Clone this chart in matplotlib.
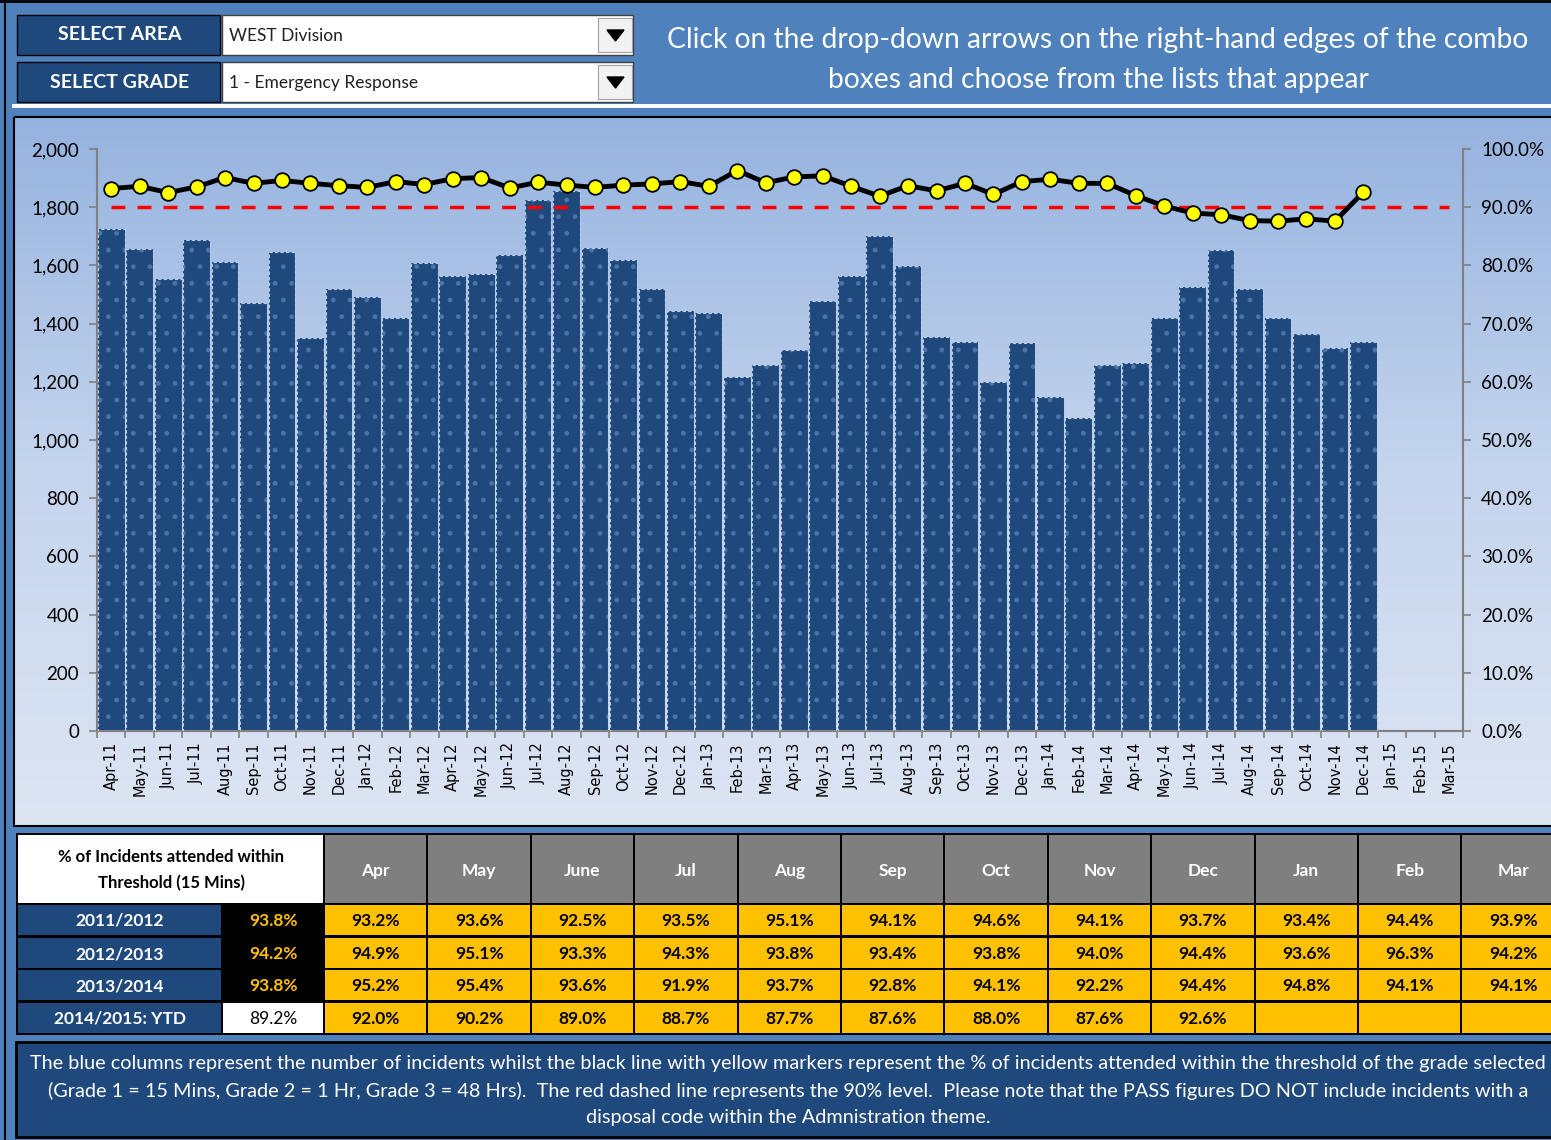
import numpy as np
import matplotlib
matplotlib.use("Agg")
import matplotlib.pyplot as plt
from matplotlib.patches import Rectangle, Polygon
from matplotlib.colors import LinearSegmentedColormap
from matplotlib.ticker import FuncFormatter, MultipleLocator

plt.rcParams['font.family'] = ['Lato', 'DejaVu Sans']

# month axis labels
months = ['Apr-11', 'May-11', 'Jun-11', 'Jul-11', 'Aug-11', 'Sep-11', 'Oct-11', 'Nov-11', 'Dec-11', 'Jan-12', 'Feb-12', 'Mar-12',
          'Apr-12', 'May-12', 'Jun-12', 'Jul-12', 'Aug-12', 'Sep-12', 'Oct-12', 'Nov-12', 'Dec-12', 'Jan-13', 'Feb-13', 'Mar-13',
          'Apr-13', 'May-13', 'Jun-13', 'Jul-13', 'Aug-13', 'Sep-13', 'Oct-13', 'Nov-13', 'Dec-13', 'Jan-14', 'Feb-14', 'Mar-14',
          'Apr-14', 'May-14', 'Jun-14', 'Jul-14', 'Aug-14', 'Sep-14', 'Oct-14', 'Nov-14', 'Dec-14', 'Jan-15', 'Feb-15', 'Mar-15']

# number of incidents (blue columns)
incidents = [1725, 1656, 1553, 1687, 1612, 1471, 1646, 1350, 1519, 1491, 1419, 1608,
             1564, 1570, 1636, 1825, 1856, 1660, 1619, 1519, 1443, 1436, 1216, 1258,
             1309, 1478, 1564, 1701, 1598, 1354, 1337, 1199, 1333, 1148, 1076, 1258,
             1265, 1419, 1526, 1653, 1519, 1419, 1364, 1316, 1337]

# % attended within threshold, per financial year
table_months = ['Apr', 'May', 'June', 'Jul', 'Aug', 'Sep', 'Oct', 'Nov', 'Dec', 'Jan', 'Feb', 'Mar']
fin_years = ['2011/2012', '2012/2013', '2013/2014', '2014/2015: YTD']
year_totals = [93.8, 94.2, 93.8, 89.2]
pct_1112 = [93.2, 93.6, 92.5, 93.5, 95.1, 94.1, 94.6, 94.1, 93.7, 93.4, 94.4, 93.9]
pct_1213 = [94.9, 95.1, 93.3, 94.3, 93.8, 93.4, 93.8, 94.0, 94.4, 93.6, 96.3, 94.2]
pct_1314 = [95.2, 95.4, 93.6, 91.9, 93.7, 92.8, 94.1, 92.2, 94.4, 94.8, 94.1, 94.1]
pct_1415 = [92.0, 90.2, 89.0, 88.7, 87.7, 87.6, 88.0, 87.6, 92.6]
target = 90.0

W, H = 1551, 1140
NAVY = '#1F497D'
MID = '#4F81BD'
GOLD = '#FFC000'

fig = plt.figure(figsize=(W / 100, H / 100), dpi=100)
fig.patch.set_facecolor(MID)

bg = fig.add_axes([0, 0, 1, 1])
bg.set_xlim(0, W)
bg.set_ylim(H, 0)
bg.axis('off')

# frame lines
bg.plot([5, 5], [0, H], color='black', lw=1.5)
bg.plot([0, W], [1, 1], color='black', lw=2)
bg.add_patch(Rectangle((12, 104), W, 4, color='white', lw=0))

# selectors
for y0, lab, val in [(15, 'SELECT AREA', 'WEST Division'), (62, 'SELECT GRADE', '1 - Emergency Response')]:
    bg.add_patch(Rectangle((17, y0), 203, 40, facecolor=NAVY, edgecolor='black', lw=1))
    bg.text(120, y0 + 20, lab, color='white', fontsize=14, fontweight='bold', ha='center', va='center')
    bg.add_patch(Rectangle((222, y0), 411, 40, facecolor='white', edgecolor='#404040', lw=1))
    bg.text(229, y0 + 21, val, color='#202020', fontsize=12.5, ha='left', va='center')
    bg.add_patch(Rectangle((598, y0 + 3), 34, 34, facecolor='#F2F2F2', edgecolor='#A0A0A0', lw=0.8))
    bg.add_patch(Polygon([(607, y0 + 15), (624, y0 + 15), (615.5, y0 + 26)], closed=True, color='black'))

bg.text(1098, 40, 'Click on the drop-down arrows on the right-hand edges of the combo',
        color='white', fontsize=20.3, ha='center', va='center')
bg.text(1098, 80, 'boxes and choose from the lists that appear',
        color='white', fontsize=20.3, ha='center', va='center')

# chart area with gradient
grad = np.linspace(0, 1, 256).reshape(-1, 1)
cmap = LinearSegmentedColormap.from_list('g', ['#95B3DF', '#C5D5EE', '#DDE5F3'])
bg.imshow(grad, extent=[14, W, 826, 117], aspect='auto', cmap=cmap, zorder=0)
bg.add_patch(Rectangle((14, 117), W, 709, fill=False, edgecolor='black', lw=1.5, zorder=1))

# table
bg.add_patch(Rectangle((16, 833), W, 202, facecolor='black', lw=0))
bg.add_patch(Rectangle((18, 835), 305, 68, facecolor='white', lw=0))
bg.text(171, 857, '% of Incidents attended within', fontsize=12, fontweight='bold', ha='center', va='center')
bg.text(171, 883, 'Threshold (15 Mins)', fontsize=12, fontweight='bold', ha='center', va='center')
col_x0, col_w = 325, 103.4
for j, m in enumerate(table_months):
    cx = col_x0 + j * col_w
    bg.add_patch(Rectangle((cx, 835), col_w - 2, 68, facecolor='#7F7F7F', lw=0))
    bg.text(cx + col_w / 2 - 1, 871, m, color='white', fontsize=12.5, fontweight='bold', ha='center', va='center')

rows = [pct_1112, pct_1213, pct_1314, pct_1415]
row_y = [905, 938, 970, 1003]
for i, (yr, tot, vals) in enumerate(zip(fin_years, year_totals, rows)):
    y0 = row_y[i]
    bg.add_patch(Rectangle((18, y0), 203, 30, facecolor=NAVY, lw=0))
    bg.text(120, y0 + 16, yr, color='white', fontsize=12.5, fontweight='bold', ha='center', va='center')
    last = i == len(rows) - 1
    bg.add_patch(Rectangle((223, y0), 100, 30, facecolor='white' if last else 'black', lw=0))
    bg.text(273, y0 + 16, f'{tot:.1f}%', color='black' if last else GOLD, fontsize=12.5,
            fontweight='normal' if last else 'bold', ha='center', va='center')
    for j in range(len(table_months)):
        cx = col_x0 + j * col_w
        bg.add_patch(Rectangle((cx, y0), col_w - 2, 30, facecolor=GOLD, lw=0))
        if j < len(vals):
            bg.text(cx + col_w / 2 - 1, y0 + 16, f'{vals[j]:.1f}%', color='black', fontsize=12.5,
                    fontweight='bold', ha='center', va='center')

# footer note
bg.add_patch(Rectangle((16, 1042), W, 95, facecolor=NAVY, edgecolor='black', lw=2))
note = ['The blue columns represent the number of incidents whilst the black line with yellow markers represent the % of incidents attended within the threshold of the grade selected',
        '(Grade 1 = 15 Mins, Grade 2 = 1 Hr, Grade 3 = 48 Hrs).  The red dashed line represents the 90% level.  Please note that the PASS figures DO NOT include incidents with a',
        'disposal code within the Admnistration theme.']
for k, line in enumerate(note):
    bg.text(788, 1064 + k * 27, line, color='white', fontsize=14.3, ha='center', va='center')

# main chart
ax = fig.add_axes([97 / W, 1 - 731 / H, (1463 - 97) / W, (731 - 149) / H])
ax.set_facecolor('none')
x = np.arange(len(months))
xb = x[:len(incidents)]
ax.bar(xb, incidents, width=0.94, color=NAVY, edgecolor='#4D74A8', hatch='.', linewidth=0, zorder=2)
ax.bar(xb, incidents, width=0.94, fill=False, edgecolor='#B8CCE8', linewidth=0.8,
       linestyle=(0, (3, 2)), zorder=3)
ax.set_xlim(-0.5, len(months) - 0.5)
ax.set_ylim(0, 2000)
ax.yaxis.set_major_locator(MultipleLocator(200))
ax.yaxis.set_major_formatter(FuncFormatter(lambda v, p: f'{v:,.0f}'))
ax.set_xticks(x)
ax.set_xticklabels(months, rotation=90, fontsize=10.5, family='DejaVu Sans')
ax.set_xticks(np.arange(len(months) + 1) - 0.5, minor=True)
ax.tick_params(axis='x', which='major', length=0, pad=8)
ax.tick_params(axis='x', which='minor', length=5, color='#808080', width=1.2)
ax.tick_params(axis='y', length=6, color='#808080', width=1.2, labelsize=13.5, pad=7)
for s in ['top', 'right']:
    ax.spines[s].set_visible(False)
for s in ['left', 'bottom']:
    ax.spines[s].set_color('#808080')
    ax.spines[s].set_linewidth(1.5)

ax2 = ax.twinx()
ax2.set_ylim(0, 100)
ax2.yaxis.set_major_locator(MultipleLocator(10))
ax2.yaxis.set_major_formatter(FuncFormatter(lambda v, p: f'{v:.1f}%'))
ax2.tick_params(axis='y', length=6, color='#808080', width=1.2, labelsize=13.5, pad=7)
for s in ['top', 'left', 'bottom']:
    ax2.spines[s].set_visible(False)
ax2.spines['right'].set_color('#808080')
ax2.spines['right'].set_linewidth(1.5)

ax2.plot(x, [target] * len(months), color='#FF0000', lw=2.5, linestyle=(0, (4, 3.5)), zorder=3)
pct_all = pct_1112 + pct_1213 + pct_1314 + pct_1415
ax2.plot(np.arange(len(pct_all)), pct_all, color='black', lw=3.5, marker='o', markersize=10.5,
         markerfacecolor='#FFFF00', markeredgecolor='black', markeredgewidth=1.3, zorder=4)

fig.savefig('out.png', dpi=100, facecolor=fig.get_facecolor())
